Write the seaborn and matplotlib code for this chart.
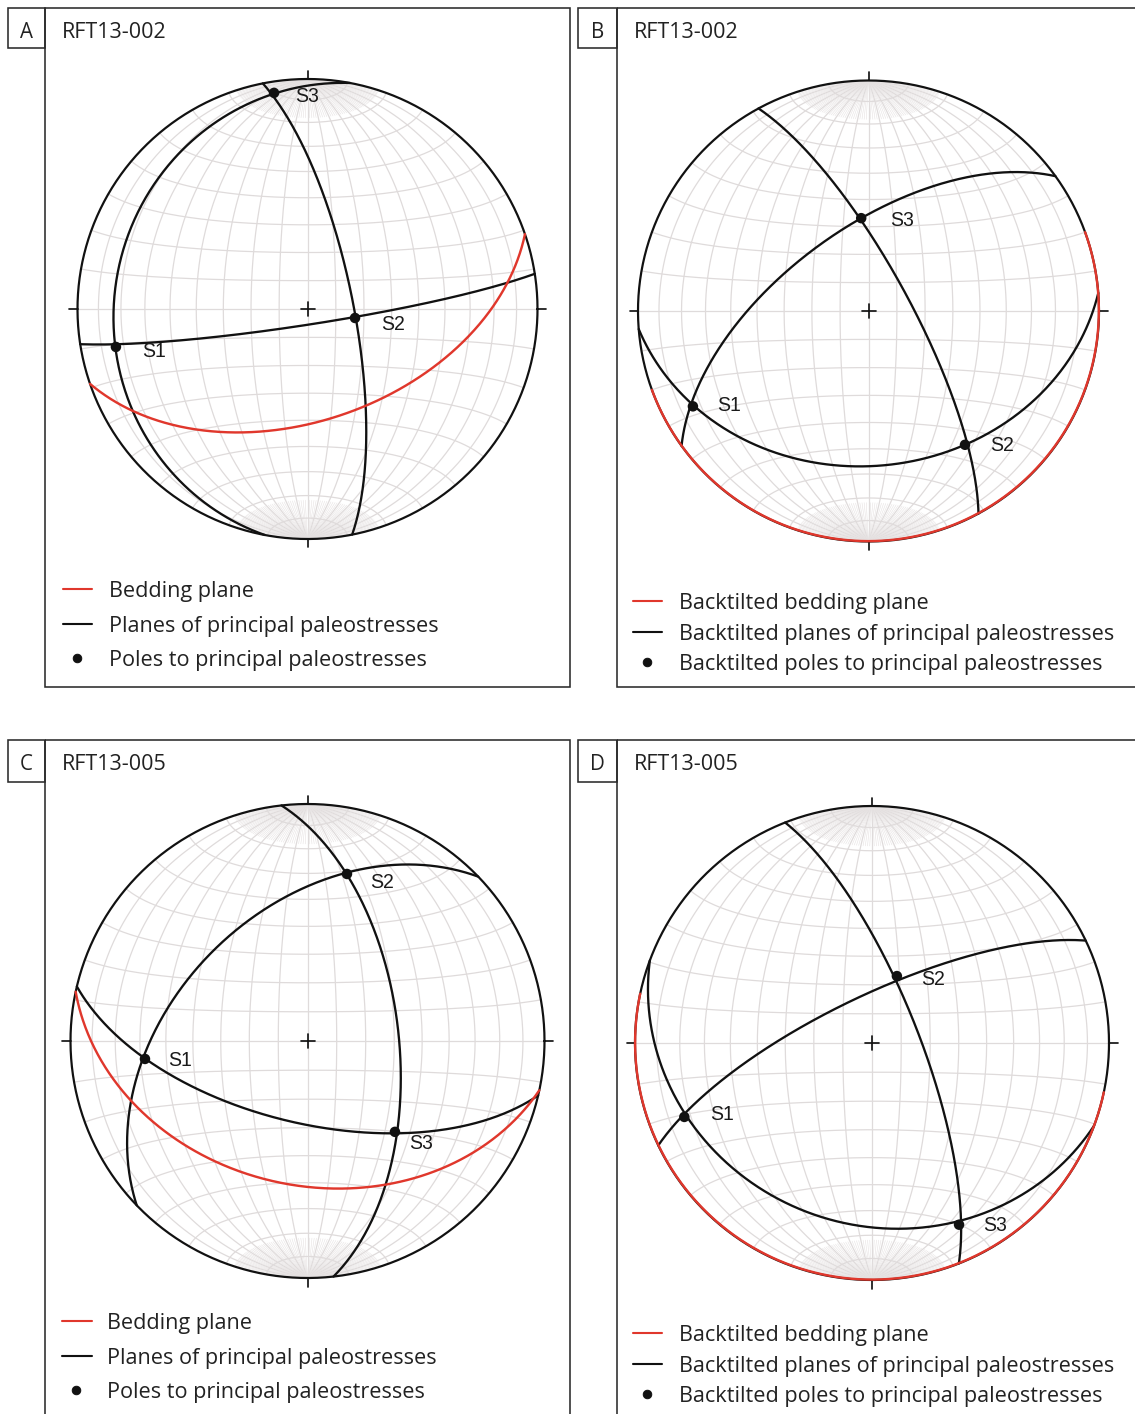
import numpy as np
import pandas as pd
import matplotlib
matplotlib.use("Agg")
import matplotlib.pyplot as plt
from matplotlib.patches import Rectangle
import seaborn as sns

# ---------------------------------------------------------------- data
# Principal paleostress axes S1, S2, S3 as (trend, plunge) in degrees,
# lower-hemisphere equal-area projection.
axis_names = ["S1", "S2", "S3"]

trend_A = [258.8, 100.7, 351.2]
plunge_A = [16.2, 72.9, 5.5]

trend_B = [241.5, 144.2, 355.5]
plunge_B = [14.4, 29.2, 56.8]

trend_C = [263.7, 13.3, 136.1]
plunge_C = [31.6, 28.4, 45.8]

trend_D = [248.5, 20.4, 154.4]
plunge_D = [16.0, 65.4, 16.1]

# Bedding planes as (dip direction, dip) in degrees
bedding_dipdir = [161, 160, 192, 192]
bedding_dip = [50.0, 0.2, 39.0, 0.2]

panel_letters = ["A", "B", "C", "D"]
site_names = ["RFT13-002", "RFT13-002", "RFT13-005", "RFT13-005"]

legend_in_situ = ["Bedding plane",
                  "Planes of principal paleostresses",
                  "Poles to principal paleostresses"]
legend_backtilted = ["Backtilted bedding plane",
                     "Backtilted planes of principal paleostresses",
                     "Backtilted poles to principal paleostresses"]

# ---------------------------------------------------------------- layout / style
W, H = 1135, 1414
DPI = 72
RED = "#e0372c"
GRID = "#dfdbdb"
FAN = "#e6e2e2"
INK = "#111111"
FRAME = "#2b2b2b"

layout = {
    "A": dict(center=(307.5, 309.0), radius=230.0, frame=(45, 8, 570, 687), box=(8, 8, 45, 48),
              legend_rows=(589, 624, 658), legend_x=(63, 92, 109),
              offsets=[(26, 5), (26, 7), (21, 4)]),
    "B": dict(center=(868.5, 311.0), radius=230.5, frame=(617, 8, 1160, 687), box=(578, 8, 617, 48),
              legend_rows=(601, 632, 662), legend_x=(633, 662, 679),
              offsets=[(24, -1), (25, 1), (29, 2)]),
    "C": dict(center=(307.5, 1041.0), radius=237.0, frame=(45, 740, 570, 1440), box=(8, 740, 45, 782),
              legend_rows=(1321, 1356, 1390), legend_x=(62, 92, 107),
              offsets=[(23, 2), (23, 9), (14, 12)]),
    "D": dict(center=(872.0, 1043.0), radius=237.0, frame=(617, 740, 1160, 1440), box=(578, 740, 617, 782),
              legend_rows=(1333, 1364, 1394), legend_x=(633, 662, 679),
              offsets=[(26, -2), (24, 3), (24, 1)]),
}

sns.set_theme(style="white")
plt.rcParams["font.family"] = ["Open Sans", "DejaVu Sans"]
LABEL_FONT = ["Liberation Sans", "DejaVu Sans"]


# ---------------------------------------------------------------- geometry
def to_vec(trend, plunge):
    t, p = np.radians(trend), np.radians(plunge)
    return np.array([np.cos(p) * np.sin(t), np.cos(p) * np.cos(t), np.sin(p)])


def project(v):
    """Lower-hemisphere equal-area (Schmidt) projection, unit primitive."""
    e, n, d = (np.asarray(c, dtype=float) for c in v)
    flip = d < 0
    e, n, d = np.where(flip, -e, e), np.where(flip, -n, n), np.abs(d)
    k = 1.0 / np.sqrt(1.0 + d)
    return e * k, n * k


def great_circle(pole, n=400):
    p = pole / np.linalg.norm(pole)
    u = np.cross(p, [0.0, 0.0, 1.0])
    u /= np.linalg.norm(u)
    w = np.cross(p, u)
    if w[2] < 0:
        w = -w
    t = np.linspace(0, np.pi, n)
    pts = np.outer(u, np.cos(t)) + np.outer(w, np.sin(t))
    return project(pts)


def draw_net(ax):
    t = np.linspace(0, np.pi, 300)
    north = np.array([0.0, 1.0, 0.0])
    # meridians (great circles through N and S)
    for dip in range(10, 91, 10):
        for s in ([1, -1] if dip < 90 else [1]):
            dv = np.array([s * np.cos(np.radians(dip)), 0.0, np.sin(np.radians(dip))])
            x, y = project(np.outer(north, np.cos(t)) + np.outer(dv, np.sin(t)))
            ax.plot(x, y, color=GRID, lw=1.25, zorder=1, solid_capstyle="butt")
    # dense meridians close to the poles
    tp = np.radians(np.linspace(0, 18, 40))
    for dip in range(2, 90, 2):
        if dip % 10 == 0:
            continue
        for s in [1, -1]:
            dv = np.array([s * np.cos(np.radians(dip)), 0.0, np.sin(np.radians(dip))])
            for tt in (tp, np.pi - tp):
                x, y = project(np.outer(north, np.cos(tt)) + np.outer(dv, np.sin(tt)))
                ax.plot(x, y, color=FAN, lw=0.55, zorder=1)
    # small circles about the N-S axis
    phi = np.linspace(0, np.pi, 300)
    for a in range(10, 171, 10):
        ar = np.radians(a)
        v = np.array([np.sin(ar) * np.cos(phi), np.full_like(phi, np.cos(ar)), np.sin(ar) * np.sin(phi)])
        x, y = project(v)
        ax.plot(x, y, color=GRID, lw=1.25, zorder=1)


def draw_panel(fig, letter, trends, plunges, dipdir, dip):
    cfg = layout[letter]
    cx, cy = cfg["center"]
    R = cfg["radius"]
    L = 1.12
    ax = fig.add_axes([(cx - L * R) / W, 1 - (cy + L * R) / H, 2 * L * R / W, 2 * L * R / H])
    ax.set_xlim(-L, L)
    ax.set_ylim(-L, L)
    ax.set_aspect("equal")
    ax.axis("off")

    draw_net(ax)

    # primitive circle, cardinal ticks and centre cross
    a = np.linspace(0, 2 * np.pi, 720)
    ax.plot(np.cos(a), np.sin(a), color=INK, lw=2.2, zorder=3)
    tick = 1 + 8.5 / R
    for ang in (0, 90, 180, 270):
        r = np.radians(ang)
        ax.plot([np.sin(r), tick * np.sin(r)], [np.cos(r), tick * np.cos(r)], color=INK, lw=1.7, zorder=3)
    c = 7.0 / R
    ax.plot([-c, c], [0, 0], color=INK, lw=1.7, zorder=3)
    ax.plot([0, 0], [-c, c], color=INK, lw=1.7, zorder=3)

    # planes of principal paleostresses: each plane is normal to one axis
    vecs = [to_vec(t, p) for t, p in zip(trends, plunges)]
    for v in vecs:
        x, y = great_circle(v)
        sns.lineplot(x=x, y=y, sort=False, estimator=None, color=INK, lw=2.3,
                     ax=ax, legend=False, zorder=4)

    # bedding plane
    bx, by = great_circle(to_vec(dipdir + 180.0, 90.0 - dip))
    sns.lineplot(x=bx, y=by, sort=False, estimator=None, color=RED, lw=2.4,
                 ax=ax, legend=False, zorder=5)

    # poles to principal paleostresses
    px, py = project(np.array(vecs).T)
    poles = pd.DataFrame({"x": px, "y": py, "name": axis_names})
    sns.scatterplot(data=poles, x="x", y="y", color=INK, s=110, edgecolor="none",
                    ax=ax, legend=False, zorder=6)
    for (_, row), (dx, dy) in zip(poles.iterrows(), cfg["offsets"]):
        ax.annotate(row["name"], (row["x"], row["y"]), xytext=(dx, -dy),
                    textcoords="offset points", ha="left", va="center",
                    fontsize=19.5, family=LABEL_FONT, color="#1a1a1a", zorder=7)

    ax.set_xlim(-L, L)
    ax.set_ylim(-L, L)
    return ax


fig = plt.figure(figsize=(W / DPI, H / DPI), dpi=DPI)
fig.patch.set_facecolor("white")

# overlay in pixel coordinates for frames, titles and legends
ov = fig.add_axes([0, 0, 1, 1], zorder=0)
ov.set_xlim(0, W)
ov.set_ylim(H, 0)
ov.axis("off")
ov.patch.set_alpha(0)

all_trends = [trend_A, trend_B, trend_C, trend_D]
all_plunges = [plunge_A, plunge_B, plunge_C, plunge_D]

for i, letter in enumerate(panel_letters):
    cfg = layout[letter]
    x0, y0, x1, y1 = cfg["frame"]
    ov.add_patch(Rectangle((x0, y0), x1 - x0, y1 - y0, fill=False, ec=FRAME, lw=1.6))
    bx0, by0, bx1, by1 = cfg["box"]
    ov.add_patch(Rectangle((bx0, by0), bx1 - bx0, by1 - by0, fill=False, ec=FRAME, lw=1.6))
    ov.text((bx0 + bx1) / 2, (by0 + by1) / 2 + 4, letter, ha="center", va="center",
            fontsize=20.5, color="#222222")
    ov.text(bx1 + 17, (by0 + by1) / 2 + 4, site_names[i], ha="left", va="center",
            fontsize=21.5, color="#222222")

    labels = legend_in_situ if letter in ("A", "C") else legend_backtilted
    lx0, lx1, tx = cfg["legend_x"]
    rows = cfg["legend_rows"]
    ov.plot([lx0, lx1], [rows[0], rows[0]], color=RED, lw=2.1)
    ov.plot([lx0, lx1], [rows[1], rows[1]], color=INK, lw=2.1)
    ov.plot([(lx0 + lx1) / 2 - 1], [rows[2]], "o", color=INK, ms=8.5)
    for r, lab in zip(rows, labels):
        ov.text(tx, r + 2.5, lab, ha="left", va="center", fontsize=21.6, color="#222222")

    draw_panel(fig, letter, all_trends[i], all_plunges[i], bedding_dipdir[i], bedding_dip[i])

fig.savefig("out.png", dpi=DPI, facecolor="white")
